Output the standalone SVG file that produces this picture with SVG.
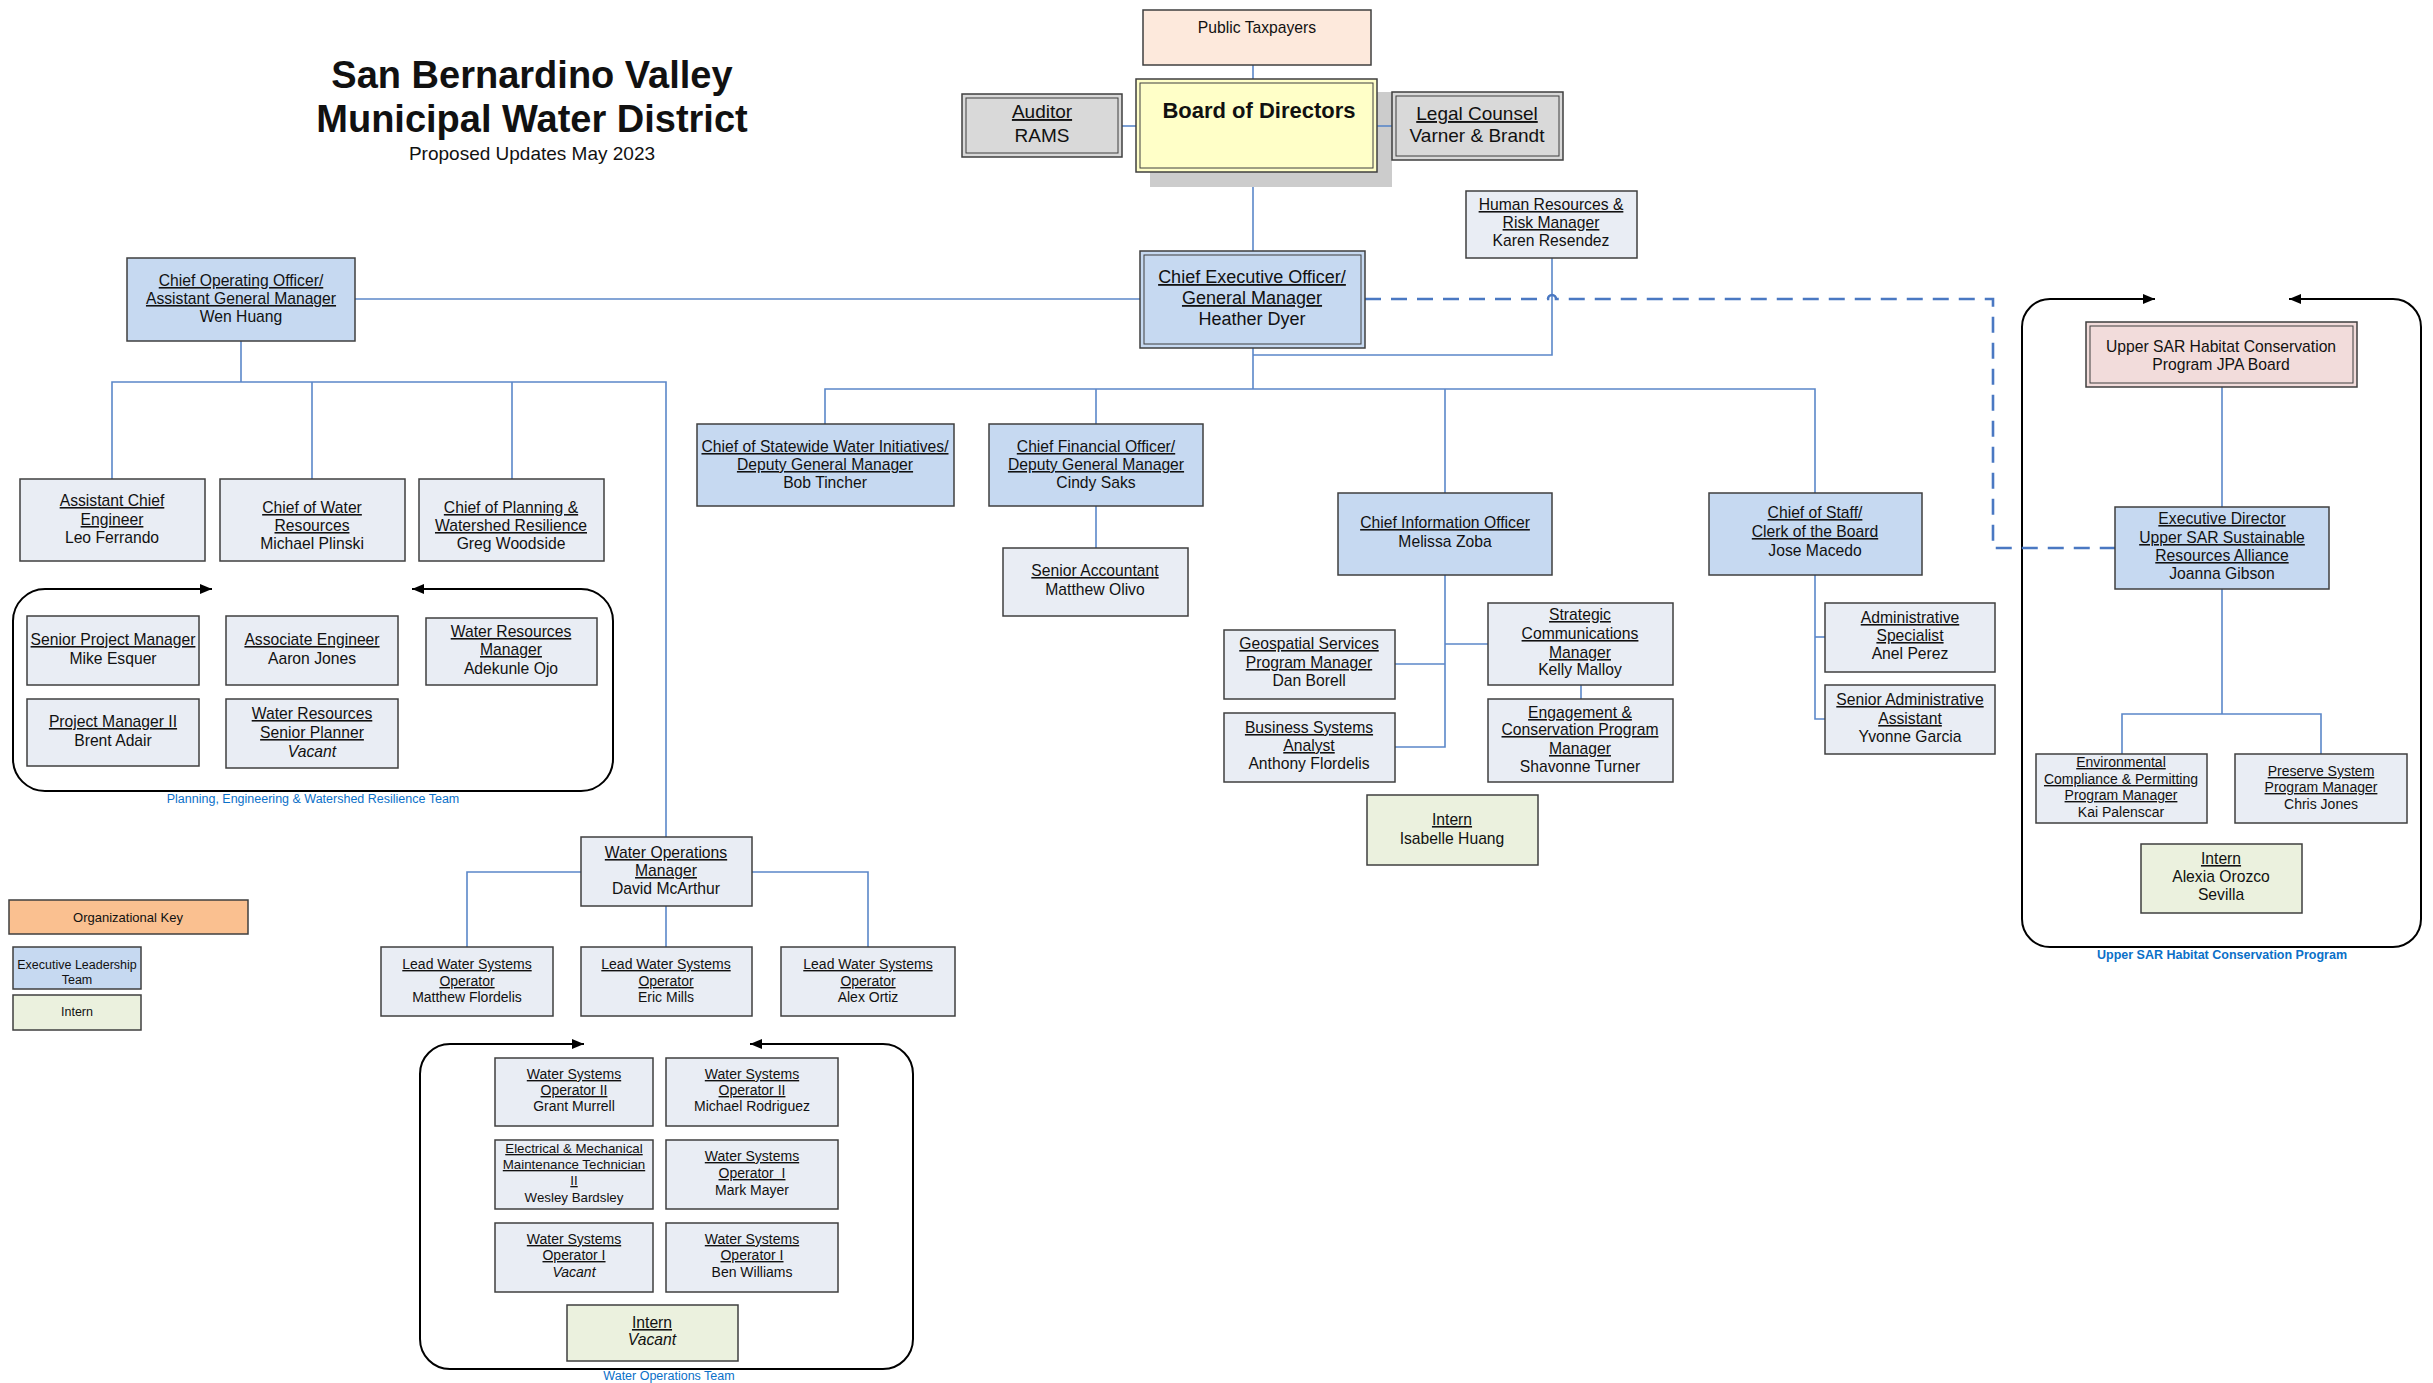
<svg xmlns="http://www.w3.org/2000/svg" width="2433" height="1383" viewBox="0 0 2433 1383">
<style>
text{font-family:"Liberation Sans",Arial,sans-serif;fill:#111;text-anchor:middle}
.u{text-decoration:underline}
.i{font-style:italic}
.b{font-weight:bold}
.f19{font-size:19px}.f18{font-size:18px}.f16{font-size:15.7px}.f14{font-size:14px}.f135{font-size:13.3px}.f125{font-size:12.5px}
.box{stroke:#3f3f3f;stroke-width:1.5}
.in{fill:none;stroke:#3f3f3f;stroke-width:1}
.exec{fill:#C6D9F1}.staff{fill:#E9EDF4}.intern{fill:#EBF1DE}.gray{fill:#D9D9D9}.peach{fill:#FDE9DC}.pink{fill:#F2DCDB}.yellow{fill:#FFFFC8}.key{fill:#FAC090}
.conn{fill:none;stroke:#5B87C9;stroke-width:1.6}
.dash{fill:none;stroke:#4A78C2;stroke-width:2.6;stroke-dasharray:16 10}
.cont{fill:none;stroke:#000;stroke-width:2}
.lbl{fill:#0A70C8;font-size:12.5px}
</style>
<defs>
<marker id="ah" markerWidth="12" markerHeight="10" refX="12" refY="5" orient="auto-start-reverse" markerUnits="userSpaceOnUse"><path d="M0,0 L12,5 L0,10 z" fill="#000"/></marker>
</defs>

<g id="title">
<text class="b" x="532" y="88" font-size="38">San Bernardino Valley</text>
<text class="b" x="532" y="132" font-size="38">Municipal Water District</text>
<text x="532" y="160" font-size="19">Proposed Updates May 2023</text>
</g>

<g id="containers">
<path class="cont" marker-start="url(#ah)" marker-end="url(#ah)" d="M212 589 H45 A32 32 0 0 0 13 621 V759 A32 32 0 0 0 45 791 H581 A32 32 0 0 0 613 759 V621 A32 32 0 0 0 581 589 H412"/>
<text class="lbl" x="313" y="803">Planning, Engineering &amp; Watershed Resilience Team</text>
<path class="cont" marker-start="url(#ah)" marker-end="url(#ah)" d="M584 1044 H450 A30 30 0 0 0 420 1074 V1339 A30 30 0 0 0 450 1369 H883 A30 30 0 0 0 913 1339 V1074 A30 30 0 0 0 883 1044 H750"/>
<text class="lbl" font-size="12px" x="669" y="1380">Water Operations Team</text>
<path class="cont" marker-start="url(#ah)" marker-end="url(#ah)" d="M2155 299 H2050 A28 28 0 0 0 2022 327 V919 A28 28 0 0 0 2050 947 H2393 A28 28 0 0 0 2421 919 V327 A28 28 0 0 0 2393 299 H2289"/>
<text class="lbl b" x="2222" y="959">Upper SAR Habitat Conservation Program</text>
</g>

<g id="connectors">
<path class="conn" d="M1253 65 V79"/>
<path class="conn" d="M1122 126 H1136"/>
<path class="conn" d="M1253 172 V251"/>
<path class="conn" d="M355 299 H1140"/>
<path class="conn" d="M1253 348 V389"/>
<path class="conn" d="M1552 258 V355 H1253"/>
<path class="conn" d="M825 424 V389 H1815 V493"/>
<path class="conn" d="M1096 389 V424"/>
<path class="conn" d="M1445 389 V493"/>
<path class="conn" d="M1096 506 V548"/>
<path class="conn" d="M241 341 V382"/>
<path class="conn" d="M112 479 V382 H666 V837"/>
<path class="conn" d="M312 382 V479"/>
<path class="conn" d="M512 382 V479"/>
<path class="conn" d="M581 872 H467 V947"/>
<path class="conn" d="M752 872 H868 V947"/>
<path class="conn" d="M666 906 V947"/>
<path class="conn" d="M1445 575 V747 H1395"/>
<path class="conn" d="M1445 664 H1395"/>
<path class="conn" d="M1445 644 H1488"/>
<path class="conn" d="M1581 685 V699"/>
<path class="conn" d="M1815 575 V719 H1825"/>
<path class="conn" d="M1815 637 H1825"/>
<path class="conn" d="M2222 387 V507"/>
<path class="conn" d="M2222 589 V714"/>
<path class="conn" d="M2122 754 V714 H2321 V754"/>
<path class="dash" d="M1365 299 H1548 a4 4 0 0 1 8 0 H1993 V548 H2115"/>
</g>

<g id="public-taxpayers">
<rect class="box peach" x="1143" y="10" width="228" height="55"/>
<text class="f16" x="1257" y="33">Public Taxpayers</text>
</g>

<g id="board">
<rect x="1150" y="92" width="242" height="95" fill="#CCCCCC"/>
<path class="conn" d="M1377 126 H1392"/>
<rect class="box yellow" x="1136" y="79" width="241" height="93"/>
<rect class="in" x="1140" y="83" width="233" height="85"/>
<text class="b" font-size="22" x="1259" y="118">Board of Directors</text>
</g>

<g id="auditor">
<rect class="box gray" x="962" y="94" width="160" height="63"/>
<rect class="in" x="966" y="98" width="152" height="55"/>
<text class="f19 u" x="1042" y="118">Auditor</text>
<text class="f19" x="1042" y="142">RAMS</text>
</g>

<g id="legal">
<rect class="box gray" x="1392" y="92" width="171" height="68"/>
<rect class="in" x="1396" y="96" width="163" height="60"/>
<text class="f19 u" x="1477" y="120">Legal Counsel</text>
<text class="f19" x="1477" y="142">Varner &amp; Brandt</text>
</g>

<g id="ceo">
<rect class="box exec" x="1140" y="251" width="225" height="97"/>
<rect class="in" x="1144" y="255" width="217" height="89"/>
<text class="f18 u" x="1252" y="283">Chief Executive Officer/</text>
<text class="f18 u" x="1252" y="304">General Manager</text>
<text class="f18" x="1252" y="325">Heather Dyer</text>
</g>

<g id="hr">
<rect class="box staff" x="1466" y="191" width="171" height="67"/>
<text class="f16 u" x="1551" y="210">Human Resources &amp;</text>
<text class="f16 u" x="1551" y="228">Risk Manager</text>
<text class="f16" x="1551" y="246">Karen Resendez</text>
</g>

<g id="coo">
<rect class="box exec" x="127" y="258" width="228" height="83"/>
<text class="f16 u" x="241" y="286">Chief Operating Officer/</text>
<text class="f16 u" x="241" y="304">Assistant General Manager</text>
<text class="f16" x="241" y="322">Wen Huang</text>
</g>

<g id="asst-chief-engineer">
<rect class="box staff" x="20" y="479" width="185" height="82"/>
<text class="f16 u" x="112" y="506">Assistant Chief</text>
<text class="f16 u" x="112" y="525">Engineer</text>
<text class="f16" x="112" y="543">Leo Ferrando</text>
</g>

<g id="chief-water-resources">
<rect class="box staff" x="220" y="479" width="185" height="82"/>
<text class="f16 u" x="312" y="513">Chief of Water</text>
<text class="f16 u" x="312" y="531">Resources</text>
<text class="f16" x="312" y="549">Michael Plinski</text>
</g>

<g id="chief-planning">
<rect class="box staff" x="419" y="479" width="185" height="82"/>
<text class="f16 u" x="511" y="513">Chief of Planning &amp;</text>
<text class="f16 u" x="511" y="531">Watershed Resilience</text>
<text class="f16" x="511" y="549">Greg Woodside</text>
</g>

<g id="senior-pm">
<rect class="box staff" x="27" y="616" width="172" height="69"/>
<text class="f16 u" x="113" y="645">Senior Project Manager</text>
<text class="f16" x="113" y="664">Mike Esquer</text>
</g>

<g id="associate-engineer">
<rect class="box staff" x="226" y="616" width="172" height="69"/>
<text class="f16 u" x="312" y="645">Associate Engineer</text>
<text class="f16" x="312" y="664">Aaron Jones</text>
</g>

<g id="wr-manager">
<rect class="box staff" x="426" y="618" width="171" height="67"/>
<text class="f16 u" x="511" y="637">Water Resources</text>
<text class="f16 u" x="511" y="655">Manager</text>
<text class="f16" x="511" y="674">Adekunle Ojo</text>
</g>

<g id="pm-ii">
<rect class="box staff" x="27" y="699" width="172" height="67"/>
<text class="f16 u" x="113" y="727">Project Manager II</text>
<text class="f16" x="113" y="746">Brent Adair</text>
</g>

<g id="wr-senior-planner">
<rect class="box staff" x="226" y="699" width="172" height="69"/>
<text class="f16 u" x="312" y="719">Water Resources</text>
<text class="f16 u" x="312" y="738">Senior Planner</text>
<text class="f16 i" x="312" y="757">Vacant</text>
</g>

<g id="key">
<rect class="box key" x="9" y="900" width="239" height="34"/>
<text font-size="13" x="128" y="922">Organizational Key</text>
</g>
<g id="key-exec">
<rect class="box exec" x="13" y="947" width="128" height="42"/>
<text class="f125" x="77" y="969">Executive Leadership</text>
<text class="f125" x="77" y="984">Team</text>
</g>
<g id="key-intern">
<rect class="box intern" x="13" y="995" width="128" height="35"/>
<text class="f125" x="77" y="1016">Intern</text>
</g>

<g id="wo-manager">
<rect class="box staff" x="581" y="837" width="171" height="69"/>
<text class="f16 u" x="666" y="858">Water Operations</text>
<text class="f16 u" x="666" y="876">Manager</text>
<text class="f16" x="666" y="894">David McArthur</text>
</g>

<g id="lead-matthew">
<rect class="box staff" x="381" y="947" width="172" height="69"/>
<text class="f14 u" x="467" y="969">Lead Water Systems</text>
<text class="f14 u" x="467" y="986">Operator</text>
<text class="f14" x="467" y="1002">Matthew Flordelis</text>
</g>
<g id="lead-eric">
<rect class="box staff" x="581" y="947" width="171" height="69"/>
<text class="f14 u" x="666" y="969">Lead Water Systems</text>
<text class="f14 u" x="666" y="986">Operator</text>
<text class="f14" x="666" y="1002">Eric Mills</text>
</g>
<g id="lead-alex">
<rect class="box staff" x="781" y="947" width="174" height="69"/>
<text class="f14 u" x="868" y="969">Lead Water Systems</text>
<text class="f14 u" x="868" y="986">Operator</text>
<text class="f14" x="868" y="1002">Alex Ortiz</text>
</g>

<g id="wso2-grant">
<rect class="box staff" x="495" y="1058" width="158" height="68"/>
<text class="f14 u" x="574" y="1079">Water Systems</text>
<text class="f14 u" x="574" y="1095">Operator II</text>
<text class="f14" x="574" y="1111">Grant Murrell</text>
</g>
<g id="wso2-michael">
<rect class="box staff" x="666" y="1058" width="172" height="68"/>
<text class="f14 u" x="752" y="1079">Water Systems</text>
<text class="f14 u" x="752" y="1095">Operator II</text>
<text class="f14" x="752" y="1111">Michael Rodriguez</text>
</g>
<g id="em-tech">
<rect class="box staff" x="495" y="1140" width="158" height="69"/>
<text class="f135 u" x="574" y="1153">Electrical &amp; Mechanical</text>
<text class="f135 u" x="574" y="1169">Maintenance Technician</text>
<text class="f135 u" x="574" y="1185">II</text>
<text class="f135" x="574" y="1202">Wesley Bardsley</text>
</g>
<g id="wso1-mark">
<rect class="box staff" x="666" y="1140" width="172" height="69"/>
<text class="f14 u" x="752" y="1161">Water Systems</text>
<text class="f14 u" x="752" y="1178" style="white-space:pre">Operator  I</text>
<text class="f14" x="752" y="1195">Mark Mayer</text>
</g>
<g id="wso1-vacant">
<rect class="box staff" x="495" y="1223" width="158" height="69"/>
<text class="f14 u" x="574" y="1244">Water Systems</text>
<text class="f14 u" x="574" y="1260">Operator I</text>
<text class="f14 i" x="574" y="1277">Vacant</text>
</g>
<g id="wso1-ben">
<rect class="box staff" x="666" y="1223" width="172" height="69"/>
<text class="f14 u" x="752" y="1244">Water Systems</text>
<text class="f14 u" x="752" y="1260">Operator I</text>
<text class="f14" x="752" y="1277">Ben Williams</text>
</g>
<g id="wo-intern">
<rect class="box intern" x="567" y="1305" width="171" height="56"/>
<text class="f16 u" x="652" y="1328">Intern</text>
<text class="f16 i" x="652" y="1345">Vacant</text>
</g>

<g id="statewide">
<rect class="box exec" x="697" y="424" width="257" height="82"/>
<text class="f16 u" x="825" y="452">Chief of Statewide Water Initiatives/</text>
<text class="f16 u" x="825" y="470">Deputy General Manager</text>
<text class="f16" x="825" y="488">Bob Tincher</text>
</g>
<g id="cfo">
<rect class="box exec" x="989" y="424" width="214" height="82"/>
<text class="f16 u" x="1096" y="452">Chief Financial Officer/</text>
<text class="f16 u" x="1096" y="470">Deputy General Manager</text>
<text class="f16" x="1096" y="488">Cindy Saks</text>
</g>
<g id="senior-accountant">
<rect class="box staff" x="1003" y="548" width="185" height="68"/>
<text class="f16 u" x="1095" y="576">Senior Accountant</text>
<text class="f16" x="1095" y="595">Matthew Olivo</text>
</g>
<g id="cio">
<rect class="box exec" x="1338" y="493" width="214" height="82"/>
<text class="f16 u" x="1445" y="528">Chief Information Officer</text>
<text class="f16" x="1445" y="547">Melissa Zoba</text>
</g>
<g id="chief-of-staff">
<rect class="box exec" x="1709" y="493" width="213" height="82"/>
<text class="f16 u" x="1815" y="518">Chief of Staff/</text>
<text class="f16 u" x="1815" y="537">Clerk of the Board</text>
<text class="f16" x="1815" y="556">Jose Macedo</text>
</g>
<g id="geospatial">
<rect class="box staff" x="1224" y="630" width="171" height="69"/>
<text class="f16 u" x="1309" y="649">Geospatial Services</text>
<text class="f16 u" x="1309" y="668">Program Manager</text>
<text class="f16" x="1309" y="686">Dan Borell</text>
</g>
<g id="bsa">
<rect class="box staff" x="1224" y="713" width="171" height="69"/>
<text class="f16 u" x="1309" y="733">Business Systems</text>
<text class="f16 u" x="1309" y="751">Analyst</text>
<text class="f16" x="1309" y="769">Anthony Flordelis</text>
</g>
<g id="strategic-comms">
<rect class="box staff" x="1488" y="603" width="185" height="82"/>
<text class="f16 u" x="1580" y="620">Strategic</text>
<text class="f16 u" x="1580" y="639">Communications</text>
<text class="f16 u" x="1580" y="658">Manager</text>
<text class="f16" x="1580" y="675">Kelly Malloy</text>
</g>
<g id="engagement">
<rect class="box staff" x="1488" y="699" width="185" height="83"/>
<text class="f16 u" x="1580" y="718">Engagement &amp;</text>
<text class="f16 u" x="1580" y="735">Conservation Program</text>
<text class="f16 u" x="1580" y="754">Manager</text>
<text class="f16" x="1580" y="772">Shavonne Turner</text>
</g>
<g id="intern-isabelle">
<rect class="box intern" x="1367" y="795" width="171" height="70"/>
<text class="f16 u" x="1452" y="825">Intern</text>
<text class="f16" x="1452" y="844">Isabelle Huang</text>
</g>
<g id="admin-specialist">
<rect class="box staff" x="1825" y="603" width="170" height="69"/>
<text class="f16 u" x="1910" y="623">Administrative</text>
<text class="f16 u" x="1910" y="641">Specialist</text>
<text class="f16" x="1910" y="659">Anel Perez</text>
</g>
<g id="sr-admin-assistant">
<rect class="box staff" x="1825" y="685" width="170" height="69"/>
<text class="f16 u" x="1910" y="705">Senior Administrative</text>
<text class="f16 u" x="1910" y="724">Assistant</text>
<text class="f16" x="1910" y="742">Yvonne Garcia</text>
</g>

<g id="jpa-board">
<rect class="box pink" x="2086" y="322" width="271" height="65"/>
<rect class="in" x="2090" y="326" width="263" height="57"/>
<text class="f16" x="2221" y="352">Upper SAR Habitat Conservation</text>
<text class="f16" x="2221" y="370">Program JPA Board</text>
</g>
<g id="exec-director">
<rect class="box exec" x="2115" y="507" width="214" height="82"/>
<text class="f16 u" x="2222" y="524">Executive Director</text>
<text class="f16 u" x="2222" y="543">Upper SAR Sustainable</text>
<text class="f16 u" x="2222" y="561">Resources Alliance</text>
<text class="f16" x="2222" y="579">Joanna Gibson</text>
</g>
<g id="env-compliance">
<rect class="box staff" x="2036" y="754" width="171" height="69"/>
<text class="f14 u" x="2121" y="767">Environmental</text>
<text class="f14 u" x="2121" y="784">Compliance &amp; Permitting</text>
<text class="f14 u" x="2121" y="800">Program Manager</text>
<text class="f14" x="2121" y="817">Kai Palenscar</text>
</g>
<g id="preserve-system">
<rect class="box staff" x="2235" y="754" width="172" height="69"/>
<text class="f14 u" x="2321" y="776">Preserve System</text>
<text class="f14 u" x="2321" y="792">Program Manager</text>
<text class="f14" x="2321" y="809">Chris Jones</text>
</g>
<g id="intern-alexia">
<rect class="box intern" x="2141" y="844" width="161" height="69"/>
<text class="f16 u" x="2221" y="864">Intern</text>
<text class="f16" x="2221" y="882">Alexia Orozco</text>
<text class="f16" x="2221" y="900">Sevilla</text>
</g>
</svg>
